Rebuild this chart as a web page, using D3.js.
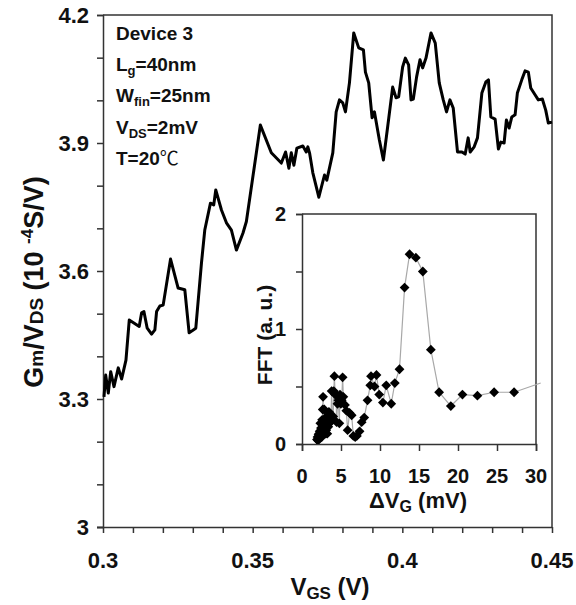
<!DOCTYPE html>
<html>
<head>
<meta charset="utf-8">
<script src="https://cdn.jsdelivr.net/npm/d3@7"></script>
<style>
  html, body { margin: 0; padding: 0; background: #fff; }
  svg { display: block; font-family: "Liberation Sans", Arial, Helvetica, sans-serif; font-weight: bold; }
</style>
</head>
<body>
<svg id="chart" width="576" height="605"></svg>
<script>
// Transconductance over drain voltage versus gate voltage (main trace)
const vgs = [0.30033,0.3009,0.30177,0.30257,0.30367,0.3051,0.30623,0.30767,0.30877,0.3121,
  0.3129,0.31367,0.31477,0.31623,0.31733,0.3179,0.319,0.3201,0.32257,0.3251,
  0.32733,0.32877,0.331,0.3329,0.334,0.3359,0.337,0.33767,0.33957,0.34123,
  0.3429,0.34457,0.34677,0.3479,0.35257,0.35623,0.35957,0.361,0.3621,0.3629,
  0.36377,0.36477,0.36677,0.3679,0.36843,0.369,0.3701,0.3721,0.374,0.37477,
  0.37677,0.3779,0.379,0.3801,0.381,0.38233,0.38377,0.38543,0.387,0.38767,
  0.38877,0.3899,0.39067,0.39233,0.39367,0.3951,0.39677,0.3979,0.39877,0.4001,
  0.401,0.4021,0.4029,0.40367,0.40477,0.4059,0.40677,0.4079,0.40957,0.411,
  0.41233,0.41367,0.41477,0.4159,0.417,0.41843,0.4199,0.421,0.422,0.42267,
  0.424,0.4251,0.42657,0.4279,0.42877,0.42957,0.431,0.4321,0.4329,0.434,
  0.43477,0.43567,0.43657,0.43767,0.43843,0.4399,0.441,0.4421,0.4429,0.44433,
  0.44543,0.44677,0.4479,0.44877,0.45];
const gmOverVds = [3.305,3.356,3.314,3.364,3.329,3.373,3.347,3.391,3.485,3.470,
  3.502,3.505,3.466,3.452,3.462,3.505,3.518,3.520,3.628,3.560,
  3.556,3.455,3.466,3.619,3.696,3.759,3.755,3.790,3.743,3.713,
  3.696,3.649,3.689,3.716,3.942,3.877,3.853,3.879,3.841,3.877,
  3.848,3.888,3.893,3.879,3.891,3.877,3.830,3.773,3.825,3.813,
  3.877,3.973,4.001,3.994,3.973,4.041,4.158,4.123,4.118,4.066,
  4.041,3.959,3.973,3.907,3.860,3.938,4.031,4.006,4.008,4.078,
  4.099,4.083,4.001,4.003,4.055,4.095,4.076,4.099,4.158,4.134,
  4.041,4.001,3.973,4.001,3.982,3.879,3.879,3.874,3.912,3.879,
  3.891,3.912,4.017,4.043,4.048,3.961,3.956,3.886,3.902,3.900,
  3.954,3.935,3.961,3.966,4.017,4.048,4.069,4.066,4.029,4.013,
  4.001,4.003,3.977,3.947,3.949];

// FFT of the trace versus period in gate voltage (inset)
const deltaVg = [1.92,1.99,2.05,2.12,2.18,2.22,2.26,2.31,2.35,2.40,
  2.44,2.48,2.53,2.58,2.62,2.66,2.70,2.75,2.80,2.86,
  2.92,2.99,3.05,3.10,3.17,3.24,3.30,3.37,3.45,3.52,
  3.60,3.70,3.80,3.90,4.00,4.08,4.15,4.25,4.36,4.44,
  4.55,4.66,4.79,4.87,4.98,5.09,5.21,5.30,5.51,5.68,
  5.85,6.10,6.37,6.58,6.82,7.04,7.38,7.65,7.98,8.40,
  8.75,8.85,9.30,9.55,9.90,10.37,10.80,11.44,11.90,12.50,
  13.15,13.79,14.60,15.49,16.52,17.58,19.08,20.57,22.49,24.63,
  27.19,30.60];
const fftAmp = [0.04,0.06,0.03,0.08,0.09,0.05,0.11,0.07,0.18,0.10,
  0.14,0.13,0.06,0.21,0.12,0.30,0.41,0.16,0.11,0.30,
  0.20,0.18,0.09,0.12,0.24,0.09,0.21,0.15,0.28,0.18,
  0.24,0.21,0.46,0.21,0.24,0.46,0.59,0.43,0.43,0.19,
  0.35,0.38,0.18,0.43,0.35,0.38,0.58,0.41,0.34,0.29,
  0.12,0.27,0.25,0.07,0.06,0.07,0.11,0.19,0.23,0.38,
  0.51,0.59,0.50,0.60,0.43,0.36,0.51,0.35,0.53,0.65,
  1.36,1.65,1.62,1.50,0.82,0.45,0.33,0.43,0.42,0.45,
  0.45,0.53];

// Tick labels
const mainXTicks = [0.3, 0.35, 0.4, 0.45];
const mainXTickLabels = ["0.3", "0.35", "0.4", "0.45"];
const mainYTicks = [3, 3.3, 3.6, 3.9, 4.2];
const mainYTickLabels = ["3", "3.3", "3.6", "3.9", "4.2"];
const insetXTicks = [0, 5, 10, 15, 20, 25, 30];
const insetYTicks = [0, 1, 2];

const svg = d3.select("#chart");
const axisColor = "#333";

// ---------- main panel ----------
const M = { left: 103, right: 552, top: 15, bottom: 527 };
const x = d3.scaleLinear().domain([0.3, 0.45]).range([M.left, M.right]);
const y = d3.scaleLinear().domain([3, 4.2]).range([M.bottom, M.top]);

// frame top/right
svg.append("path")
  .attr("d", `M${M.left},${M.top}H${M.right}V${M.bottom}`)
  .attr("fill", "none").attr("stroke", axisColor).attr("stroke-width", 1.5);

const xMinor = d3.range(0, 16).map(i => 0.3 + i * 0.01);
const xAxis = svg.append("g").attr("transform", `translate(0,${M.bottom})`)
  .call(d3.axisBottom(x).tickValues(xMinor).tickSize(6).tickFormat(""));
xAxis.select(".domain").attr("d", `M${M.left - 6},0.5H${M.right}`);
xAxis.selectAll("line, path").attr("stroke", axisColor).attr("stroke-width", 1.5);

svg.append("g").selectAll("text").data(mainXTicks).join("text")
  .attr("x", d => x(d)).attr("y", 568)
  .attr("text-anchor", "middle").attr("font-size", 22).attr("fill", "#111")
  .text((d, i) => mainXTickLabels[i]);

const yMinor = d3.range(0, 13).map(i => 3 + i * 0.1);
const yAxis = svg.append("g").attr("transform", `translate(${M.left},0)`)
  .call(d3.axisLeft(y).tickValues(yMinor).tickSize(6).tickFormat(""));
yAxis.selectAll("line, path").attr("stroke", axisColor).attr("stroke-width", 1.5);

svg.append("g").selectAll("text").data(mainYTicks).join("text")
  .attr("x", 89).attr("y", d => y(d)).attr("dy", "0.36em")
  .attr("text-anchor", "end").attr("font-size", 22).attr("fill", "#111")
  .text((d, i) => mainYTickLabels[i]);

// axis titles
const xt = svg.append("text").attr("x", 330).attr("y", 595)
  .attr("text-anchor", "middle").attr("font-size", 24).attr("fill", "#111");
xt.append("tspan").text("V");
xt.append("tspan").attr("font-size", 17).attr("dy", 4).text("GS");
xt.append("tspan").attr("dy", -4).text(" (V)");

const yt = svg.append("text")
  .attr("transform", "translate(43,282) rotate(-90)")
  .attr("text-anchor", "middle").attr("font-size", 27).attr("fill", "#111");
yt.append("tspan").text("G");
yt.append("tspan").attr("font-size", 19).text("m");
yt.append("tspan").text("/V");
yt.append("tspan").attr("font-size", 19).text("DS");
yt.append("tspan").text(" (10 ");
yt.append("tspan").attr("font-size", 17).attr("dy", -10).text("-4");
yt.append("tspan").attr("dy", 10).text("S/V)");

// trace
const mainData = vgs.map((v, i) => ({ v, g: gmOverVds[i] }));
svg.append("path").datum(mainData)
  .attr("fill", "none").attr("stroke", "#000").attr("stroke-width", 3)
  .attr("stroke-linejoin", "round")
  .attr("d", d3.line().x(d => x(d.v)).y(d => y(d.g)));

// device annotation
const notes = svg.append("g").attr("font-size", 19).attr("fill", "#111");
notes.append("text").attr("x", 116).attr("y", 40).text("Device 3");
const n1 = notes.append("text").attr("x", 116).attr("y", 71);
n1.append("tspan").text("L");
n1.append("tspan").attr("font-size", 13).attr("dy", 4).text("g");
n1.append("tspan").attr("dy", -4).text("=40nm");
const n2 = notes.append("text").attr("x", 116).attr("y", 102);
n2.append("tspan").text("W");
n2.append("tspan").attr("font-size", 13).attr("dy", 4).text("fin");
n2.append("tspan").attr("dy", -4).text("=25nm");
const n3 = notes.append("text").attr("x", 116).attr("y", 134);
n3.append("tspan").text("V");
n3.append("tspan").attr("font-size", 13).attr("dy", 4).text("DS");
n3.append("tspan").attr("dy", -4).text("=2mV");
const n4 = notes.append("text").attr("x", 116).attr("y", 165);
n4.append("tspan").text("T=20");
n4.append("tspan").attr("font-family", "'Noto Sans CJK SC', 'DejaVu Sans', sans-serif").attr("font-weight", "normal").text("℃");

// ---------- inset panel ----------
const I = { left: 302, right: 536, top: 214, bottom: 444 };
const ix = d3.scaleLinear().domain([0, 30]).range([I.left, I.right]);
const iy = d3.scaleLinear().domain([0, 2]).range([I.bottom, I.top]);

svg.append("clipPath").attr("id", "insetClip")
  .append("rect").attr("x", I.left).attr("y", I.top - 6)
  .attr("width", I.right - I.left).attr("height", I.bottom - I.top + 6);

svg.append("path")
  .attr("d", `M${I.left},${I.top}H${I.right}V${I.bottom}`)
  .attr("fill", "none").attr("stroke", axisColor).attr("stroke-width", 1.5);

const ixAxis = svg.append("g").attr("transform", `translate(0,${I.bottom})`)
  .call(d3.axisBottom(ix).tickValues(insetXTicks).tickSize(7).tickFormat(""));
ixAxis.selectAll("line, path").attr("stroke", axisColor).attr("stroke-width", 1.5);
svg.append("g").selectAll("text").data(insetXTicks).join("text")
  .attr("x", d => ix(d)).attr("y", 483)
  .attr("text-anchor", "middle").attr("font-size", 20).attr("fill", "#111")
  .text(d => d);

const iyAxis = svg.append("g").attr("transform", `translate(${I.left},0)`)
  .call(d3.axisLeft(iy).tickValues([0, 0.5, 1, 1.5, 2]).tickSize(6).tickFormat(""));
iyAxis.selectAll("line, path").attr("stroke", axisColor).attr("stroke-width", 1.5);
svg.append("g").selectAll("text").data(insetYTicks).join("text")
  .attr("x", 286).attr("y", d => iy(d)).attr("dy", "0.36em")
  .attr("text-anchor", "end").attr("font-size", 20).attr("fill", "#111")
  .text(d => d);

const ixt = svg.append("text").attr("x", 418).attr("y", 508)
  .attr("text-anchor", "middle").attr("font-size", 22).attr("fill", "#111");
ixt.append("tspan").text("ΔV");
ixt.append("tspan").attr("font-size", 16).attr("dy", 4).text("G");
ixt.append("tspan").attr("dy", -4).text(" (mV)");

svg.append("text")
  .attr("transform", "translate(272,335) rotate(-90)")
  .attr("text-anchor", "middle").attr("font-size", 21).attr("fill", "#111")
  .text("FFT (a. u.)");

const insetData = deltaVg.map((d, i) => ({ d, a: fftAmp[i] }));
svg.append("path").datum(insetData)
  .attr("fill", "none").attr("stroke", "#a8a8a8").attr("stroke-width", 1.2)
  .attr("d", d3.line().x(d => ix(d.d)).y(d => iy(d.a)));

svg.append("g").attr("clip-path", "url(#insetClip)")
  .selectAll("path").data(insetData).join("path")
  .attr("transform", d => `translate(${ix(d.d)},${iy(d.a)}) rotate(45)`)
  .attr("d", d3.symbol(d3.symbolSquare, 48))
  .attr("fill", "#000");
</script>
</body>
</html>
